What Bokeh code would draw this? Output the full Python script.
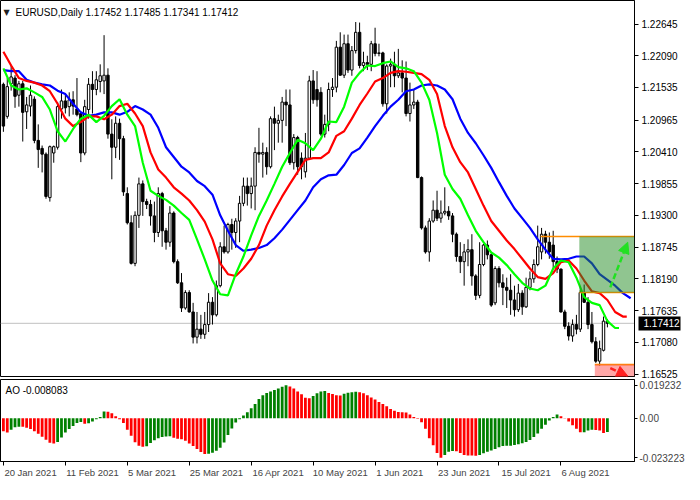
from bokeh.plotting import figure
from bokeh.layouts import column
from bokeh.models import (FixedTicker, PrintfTickFormatter, Label, Span, LinearAxis,
                          Arrow, NormalHead, Range1d, BoxAnnotation)
from bokeh.embed import file_html
from bokeh.resources import INLINE

# ---------------- data ----------------
symbol_text = "EURUSD,Daily  1.17452 1.17485 1.17341 1.17412"
ao_text = "AO -0.008083"
last_price = 1.17412

date_labels = ["20 Jan 2021", "11 Feb 2021", "5 Mar 2021", "25 Mar 2021", "16 Apr 2021",
               "10 May 2021", "1 Jun 2021", "23 Jun 2021", "15 Jul 2021", "6 Aug 2021"]
date_bars = [0, 16, 32, 48, 64, 80, 96, 112, 128, 144]

price_ticks = [1.22645, 1.22090, 1.21535, 1.20965, 1.20410, 1.19855, 1.19300,
               1.18745, 1.18190, 1.17635, 1.17080, 1.16525]
ao_ticks = [0.019232, 0.0, -0.023223]
ao_tick_labels = ["0.019232", "0.00", "-0.023223"]

open_ = [
    1.2159, 1.2103, 1.2160, 1.2170, 1.2140, 1.2160, 1.2111, 1.2121, 1.2133, 1.2061,
    1.2047, 1.2037, 1.1961, 1.2039, 1.2049, 1.2116, 1.2130, 1.2120, 1.2132, 1.2116,
    1.2108, 1.2039, 1.2115, 1.2159, 1.2150, 1.2164, 1.2165, 1.2175, 1.2072, 1.2049,
    1.2091, 1.2064, 1.1968, 1.1917, 1.1846, 1.1930, 1.1985, 1.1954, 1.1949, 1.1929,
    1.1900, 1.1968, 1.1903, 1.1883, 1.1934, 1.1849, 1.1812, 1.1768, 1.1795, 1.1761,
    1.1717, 1.1731, 1.1722, 1.1739, 1.1778, 1.1756, 1.1807, 1.1875, 1.1866, 1.1914,
    1.1900, 1.1920, 1.1951, 1.1981, 1.1968, 1.1981, 1.2040, 1.2037, 1.2040, 1.2015,
    1.2099, 1.2091, 1.2096, 1.2128, 1.2123, 1.2022, 1.2066, 1.2030, 1.2006, 1.2030,
    1.2165, 1.2150, 1.2145, 1.2072, 1.2089, 1.2150, 1.2154, 1.2224, 1.2175, 1.2230,
    1.2184, 1.2218, 1.2250, 1.2192, 1.2197, 1.2194, 1.2230, 1.2213, 1.2214, 1.2125,
    1.2191, 1.2194, 1.2174, 1.2179, 1.2170, 1.2108, 1.2123, 1.2128, 1.1996, 1.1908,
    1.1866, 1.1920, 1.1939, 1.1925, 1.1934, 1.1937, 1.1929, 1.1897, 1.1858, 1.1849,
    1.1866, 1.1870, 1.1824, 1.1790, 1.1844, 1.1878, 1.1861, 1.1777, 1.1837, 1.1812,
    1.1804, 1.1799, 1.1782, 1.1765, 1.1794, 1.1770, 1.1804, 1.1819, 1.1844, 1.1866,
    1.1897, 1.1883, 1.1878, 1.1849, 1.1836, 1.1761, 1.1736, 1.1719, 1.1739, 1.1731,
    1.1795, 1.1778, 1.1739, 1.1709, 1.1675, 1.1694, 1.17452]

high = [
    1.2162, 1.2170, 1.2191, 1.2175, 1.2165, 1.2165, 1.2137, 1.2157, 1.2138, 1.2089,
    1.2052, 1.2040, 1.2052, 1.2052, 1.2128, 1.2150, 1.2143, 1.2145, 1.2147, 1.2170,
    1.2111, 1.2132, 1.2170, 1.2182, 1.2182, 1.2194, 1.2245, 1.2187, 1.2098, 1.2103,
    1.2099, 1.2069, 1.1979, 1.1930, 1.1937, 1.1996, 1.1991, 1.1959, 1.1957, 1.1954,
    1.1979, 1.1971, 1.1908, 1.1946, 1.1937, 1.1853, 1.1829, 1.1799, 1.1799, 1.1777,
    1.1761, 1.1756, 1.1761, 1.1794, 1.1787, 1.1816, 1.1883, 1.1912, 1.1917, 1.1924,
    1.1925, 1.1964, 1.1996, 1.1996, 1.1996, 1.2049, 1.2083, 1.2057, 1.2049, 1.2103,
    1.2120, 1.2106, 1.2137, 1.2150, 1.2150, 1.2072, 1.2069, 1.2040, 1.2074, 1.2174,
    1.2184, 1.2182, 1.2154, 1.2106, 1.2162, 1.2170, 1.2235, 1.2250, 1.2246, 1.2246,
    1.2226, 1.2268, 1.2267, 1.2216, 1.2209, 1.2235, 1.2258, 1.2230, 1.2216, 1.2194,
    1.2204, 1.2216, 1.2221, 1.2201, 1.2199, 1.2162, 1.2150, 1.2132, 1.1998, 1.1912,
    1.1925, 1.1956, 1.1973, 1.1956, 1.1979, 1.1946, 1.1934, 1.1900, 1.1883, 1.1880,
    1.1888, 1.1897, 1.1827, 1.1883, 1.1880, 1.1886, 1.1863, 1.1841, 1.1841, 1.1827,
    1.1821, 1.1827, 1.1807, 1.1810, 1.1799, 1.1821, 1.1832, 1.1853, 1.1912, 1.1908,
    1.1903, 1.1900, 1.1903, 1.1858, 1.1837, 1.1765, 1.1743, 1.1748, 1.1756, 1.1799,
    1.1809, 1.1787, 1.1761, 1.1717, 1.1711, 1.1753, 1.17485]

low = [
    1.2076, 1.2099, 1.2148, 1.2118, 1.2120, 1.2059, 1.2081, 1.2103, 1.2056, 1.2013,
    1.2005, 1.1959, 1.1954, 1.2022, 1.2045, 1.2099, 1.2108, 1.2103, 1.2106, 1.2103,
    1.2023, 1.2035, 1.2099, 1.2108, 1.2140, 1.2145, 1.2142, 1.2064, 1.1993, 1.2030,
    1.2027, 1.1964, 1.1914, 1.1844, 1.1841, 1.1908, 1.1929, 1.1941, 1.1912, 1.1883,
    1.1892, 1.1875, 1.1870, 1.1875, 1.1846, 1.1810, 1.1761, 1.1765, 1.1760, 1.1706,
    1.1706, 1.1714, 1.1714, 1.1726, 1.1739, 1.1753, 1.1804, 1.1863, 1.1863, 1.1870,
    1.1873, 1.1883, 1.1946, 1.1947, 1.1942, 1.1939, 1.2022, 1.1996, 1.2001, 1.2012,
    1.2044, 1.2057, 1.2057, 1.2086, 1.2018, 1.2010, 1.2001, 1.1993, 1.1996, 1.2027,
    1.2125, 1.2120, 1.2069, 1.2066, 1.2077, 1.2137, 1.2145, 1.2174, 1.2170, 1.2179,
    1.2174, 1.2213, 1.2187, 1.2182, 1.2184, 1.2182, 1.2208, 1.2208, 1.2120, 1.2108,
    1.2154, 1.2154, 1.2170, 1.2145, 1.2103, 1.2094, 1.2116, 1.1995, 1.1905, 1.1863,
    1.1849, 1.1917, 1.1920, 1.1917, 1.1930, 1.1922, 1.1883, 1.1849, 1.1829, 1.1807,
    1.1841, 1.1807, 1.1782, 1.1785, 1.1841, 1.1853, 1.1770, 1.1773, 1.1804, 1.1773,
    1.1768, 1.1756, 1.1753, 1.1761, 1.1756, 1.1768, 1.1799, 1.1812, 1.1841, 1.1853,
    1.1863, 1.1854, 1.1836, 1.1829, 1.1760, 1.1731, 1.1711, 1.1709, 1.1722, 1.1726,
    1.1777, 1.1731, 1.1706, 1.1672, 1.1667, 1.1692, 1.17341]

close = [
    1.2086, 1.2155, 1.2172, 1.2138, 1.2160, 1.2110, 1.2123, 1.2140, 1.2061, 1.2045,
    1.2037, 1.1963, 1.2050, 1.2050, 1.2120, 1.2130, 1.2118, 1.2132, 1.2121, 1.2106,
    1.2039, 1.2120, 1.2159, 1.2150, 1.2167, 1.2174, 1.2175, 1.2072, 1.2049, 1.2091,
    1.2064, 1.1971, 1.1917, 1.1846, 1.1930, 1.1985, 1.1954, 1.1949, 1.1929, 1.1900,
    1.1968, 1.1903, 1.1883, 1.1934, 1.1849, 1.1812, 1.1768, 1.1795, 1.1761, 1.1717,
    1.1731, 1.1722, 1.1739, 1.1778, 1.1756, 1.1807, 1.1875, 1.1866, 1.1914, 1.1900,
    1.1920, 1.1951, 1.1981, 1.1968, 1.1981, 1.2040, 1.2037, 1.2040, 1.2015, 1.2099,
    1.2091, 1.2096, 1.2128, 1.2123, 1.2022, 1.2066, 1.2015, 1.2015, 1.2030, 1.2165,
    1.2132, 1.2132, 1.2072, 1.2089, 1.2150, 1.2154, 1.2224, 1.2175, 1.2230, 1.2184,
    1.2218, 1.2250, 1.2192, 1.2197, 1.2194, 1.2230, 1.2213, 1.2214, 1.2125, 1.2191,
    1.2194, 1.2174, 1.2179, 1.2170, 1.2108, 1.2123, 1.2128, 1.1996, 1.1908, 1.1866,
    1.1920, 1.1939, 1.1925, 1.1934, 1.1937, 1.1929, 1.1897, 1.1858, 1.1849, 1.1866,
    1.1870, 1.1824, 1.1790, 1.1844, 1.1878, 1.1861, 1.1773, 1.1837, 1.1812, 1.1804,
    1.1799, 1.1782, 1.1765, 1.1794, 1.1770, 1.1804, 1.1819, 1.1844, 1.1875, 1.1897,
    1.1883, 1.1866, 1.1849, 1.1836, 1.1761, 1.1736, 1.1719, 1.1739, 1.1731, 1.1795,
    1.1778, 1.1739, 1.1709, 1.1675, 1.1697, 1.1745, 1.17412]

# Alligator lines (every second bar, shifted forward)
lips_bars = list(range(0, 160, 2)) + [159]
lips = [
    1.2187, 1.2157, 1.2150, 1.2152, 1.2145, 1.2137, 1.2115, 1.2077, 1.2059, 1.2081,
    1.2099, 1.2106, 1.2093, 1.2104, 1.2121, 1.2133, 1.2106, 1.2086, 1.2022, 1.1973,
    1.1964, 1.1957, 1.1947, 1.1934, 1.1922, 1.1888, 1.1853, 1.1816, 1.1792, 1.1790,
    1.1827, 1.1858, 1.1895, 1.1929, 1.1956, 1.1985, 1.2015, 1.2039, 1.2062, 1.2056,
    1.2044, 1.2064, 1.2094, 1.2093, 1.2120, 1.2162, 1.2179, 1.2192, 1.2191, 1.2196,
    1.2199, 1.2189, 1.2187, 1.2182, 1.2162, 1.2132, 1.2074, 1.2001, 1.1976, 1.1959,
    1.1930, 1.1903, 1.1883, 1.1865, 1.1856, 1.1843, 1.1827, 1.1812, 1.1802, 1.1799,
    1.1807, 1.1837, 1.1851, 1.1848, 1.1821, 1.1787, 1.1777, 1.1773, 1.1745, 1.1733,
    1.1733]

teeth_bars = list(range(0, 162, 2)) + [161]
teeth = [
    1.2216, 1.2192, 1.2170, 1.2165, 1.2162, 1.2157, 1.2147, 1.2125, 1.2099, 1.2086,
    1.2093, 1.2103, 1.2103, 1.2098, 1.2106, 1.2121, 1.2125, 1.2108, 1.2086, 1.2040,
    1.2010, 1.1996, 1.1979, 1.1968, 1.1956, 1.1939, 1.1919, 1.1888, 1.1846, 1.1827,
    1.1824, 1.1837, 1.1854, 1.1878, 1.1912, 1.1939, 1.1963, 1.1985, 1.2006, 1.2027,
    1.2030, 1.2030, 1.2040, 1.2069, 1.2077, 1.2099, 1.2123, 1.2143, 1.2164, 1.2170,
    1.2179, 1.2182, 1.2181, 1.2179, 1.2177, 1.2167, 1.2142, 1.2086, 1.2049, 1.2023,
    1.2005, 1.1976, 1.1947, 1.1920, 1.1903, 1.1886, 1.1871, 1.1854, 1.1837, 1.1822,
    1.1819, 1.1829, 1.1848, 1.1851, 1.1837, 1.1816, 1.1797, 1.1794, 1.1782, 1.1761,
    1.1753, 1.1753]

jaw_bars = list(range(0, 164, 2))
jaw = [
    1.2184, 1.2182, 1.2182, 1.2167, 1.2162, 1.2159, 1.2157, 1.2148, 1.2142, 1.2125,
    1.2110, 1.2104, 1.2106, 1.2110, 1.2110, 1.2106, 1.2111, 1.2121, 1.2115, 1.2106,
    1.2083, 1.2049, 1.2032, 1.2015, 1.2005, 1.1990, 1.1981, 1.1966, 1.1930, 1.1903,
    1.1878, 1.1868, 1.1870, 1.1873, 1.1878, 1.1890, 1.1905, 1.1922, 1.1939, 1.1956,
    1.1979, 1.1993, 1.2000, 1.2001, 1.2018, 1.2039, 1.2047, 1.2066, 1.2086, 1.2104,
    1.2120, 1.2132, 1.2147, 1.2150, 1.2157, 1.2159, 1.2157, 1.2150, 1.2133, 1.2099,
    1.2074, 1.2056, 1.2035, 1.2013, 1.1988, 1.1964, 1.1942, 1.1925, 1.1908, 1.1888,
    1.1870, 1.1854, 1.1853, 1.1854, 1.1858, 1.1858, 1.1846, 1.1827, 1.1817, 1.1807,
    1.1794, 1.1785]

ao = [
    -0.0077, -0.0084, -0.0068, -0.0054, -0.0050, -0.0051, -0.0056, -0.0063, -0.0077, -0.0091,
    -0.0109, -0.0126, -0.0144, -0.0149, -0.0139, -0.0113, -0.0084, -0.0063, -0.0046, -0.0028,
    -0.0022, -0.0033, -0.0030, -0.0019, -0.0007, 0.0007, 0.0039, 0.0038, 0.0028, 0.0011,
    -0.0007, -0.0028, -0.0068, -0.0103, -0.0141, -0.0162, -0.0167, -0.0164, -0.0146, -0.0129,
    -0.0118, -0.0111, -0.0108, -0.0106, -0.0115, -0.0120, -0.0123, -0.0132, -0.0149, -0.0163,
    -0.0181, -0.0198, -0.0210, -0.0208, -0.0203, -0.0190, -0.0173, -0.0143, -0.0099, -0.0060,
    -0.0025, -0.0007, 0.0016, 0.0034, 0.0058, 0.0083, 0.0112, 0.0134, 0.0147, 0.0156,
    0.0165, 0.0174, 0.0183, 0.019232, 0.0185, 0.0174, 0.0156, 0.0139, 0.0119, 0.0116,
    0.0130, 0.0145, 0.0156, 0.0159, 0.0147, 0.0141, 0.0134, 0.0133, 0.0143, 0.0148,
    0.0152, 0.0154, 0.0152, 0.0145, 0.0134, 0.0121, 0.0109, 0.0094, 0.0083, 0.0069,
    0.0054, 0.0043, 0.0036, 0.0034, 0.0033, 0.0022, 0.0007, -0.0003, -0.0024, -0.0062,
    -0.0118, -0.0158, -0.0204, -0.023223, -0.0215, -0.0197, -0.0192, -0.0194, -0.0204, -0.0215,
    -0.0218, -0.0219, -0.0220, -0.0215, -0.0206, -0.0197, -0.0189, -0.0180, -0.0170, -0.0163,
    -0.0162, -0.0161, -0.0157, -0.0152, -0.0147, -0.0140, -0.0128, -0.0111, -0.0090, -0.0062,
    -0.0038, -0.0014, 0.0007, 0.0021, 0.0011, -0.0002, -0.0019, -0.0042, -0.0062, -0.0083,
    -0.0082, -0.0072, -0.0068, -0.0070, -0.0073, -0.0087, -0.008083]

# drawn objects on the chart (bar index / price)
buy_zone = dict(left=148.75, bottom=1.1795, top=1.1893)
sell_zone = dict(left=152.75, top=1.1669)
upper_level_start = 138.75
up_arrow = dict(x0=156.75, y0=1.1804, x1=161.25, y1=1.1883)
down_arrow = dict(x0=156.75, y0=1.1663, x1=161.25, y1=1.1649)

# ---------------- layout constants ----------------
FONT = "Liberation Sans"
FW = 634
MAIN_H = 376
AO_H = 82
X0, X1 = -0.75, 163.0
X_RANGE = Range1d(X0, X1)
PX_PER_BAR = FW / (X1 - X0)

bars = list(range(len(close)))
up = [i for i in bars if close[i] >= open_[i]]
dn = [i for i in bars if close[i] < open_[i]]

p = figure(frame_width=FW, frame_height=MAIN_H, x_range=X_RANGE,
           y_range=Range1d(1.16482, 1.23056), output_backend="svg", toolbar_location=None,
           y_axis_location="right", x_axis_location=None,
           min_border_left=0, min_border_right=44, min_border_top=0, min_border_bottom=3)
p.grid.visible = False
p.outline_line_color = "black"
p.outline_line_alpha = 1.0
p.background_fill_color = "white"
p.border_fill_color = "white"

p.add_layout(Span(location=last_price, dimension="width", line_color="#C0C0C0",
                  line_width=1, level="underlay"))

p.segment(x0=bars, y0=low, x1=bars, y1=high, line_color="black", line_width=1)
p.vbar(x=up, width=0.62, top=[close[i] for i in up], bottom=[open_[i] for i in up],
       fill_color="white", line_color="black", line_width=1)
p.vbar(x=dn, width=0.62, top=[open_[i] for i in dn], bottom=[close[i] for i in dn],
       fill_color="black", line_color="black", line_width=1)

p.line(jaw_bars, jaw, line_color="#0000FF", line_width=2.2)
p.line(teeth_bars, teeth, line_color="#FF0000", line_width=2.2)
p.line(lips_bars, lips, line_color="#00FF00", line_width=2.2)

p.add_layout(BoxAnnotation(left=buy_zone["left"], bottom=buy_zone["bottom"], top=buy_zone["top"],
                           fill_color="#228B22", fill_alpha=0.5, line_alpha=0))
p.add_layout(BoxAnnotation(left=sell_zone["left"], top=sell_zone["top"],
                           fill_color="#FF5050", fill_alpha=0.5, line_alpha=0))
p.segment(x0=[upper_level_start, buy_zone["left"], sell_zone["left"]],
          y0=[buy_zone["top"], buy_zone["bottom"], sell_zone["top"]],
          x1=[X1, X1, X1],
          y1=[buy_zone["top"], buy_zone["bottom"], sell_zone["top"]],
          line_color="#FF8C00", line_width=1.6)

p.add_layout(Arrow(x_start=up_arrow["x0"], y_start=up_arrow["y0"], x_end=up_arrow["x1"],
                   y_end=up_arrow["y1"], line_color="#22E022", line_width=2.5, line_dash="6 3",
                   end=NormalHead(size=11, fill_color="#22E022", line_color="#22E022")))
p.add_layout(Arrow(x_start=down_arrow["x0"], y_start=down_arrow["y0"], x_end=down_arrow["x1"],
                   y_end=down_arrow["y1"], line_color="#FF2020", line_width=2.5, line_dash="6 3",
                   end=NormalHead(size=11, fill_color="#FF2020", line_color="#FF2020")))

yax = p.yaxis[0]
yax.ticker = FixedTicker(ticks=price_ticks)
yax.formatter = PrintfTickFormatter(format="%.5f")
yax.major_tick_out = 4
yax.major_tick_in = 0
yax.minor_tick_out = 0
yax.minor_tick_in = 0
yax.major_label_standoff = 3
yax.axis_line_color = "black"
yax.major_label_text_font = FONT
yax.major_label_text_font_size = "10px"
yax.major_label_text_color = "black"

# current price tag: a second price scale whose single tick is drawn back over the first
# scale as a black bar, with its white label on top of it
tag = LinearAxis(ticker=FixedTicker(ticks=[last_price]),
                 formatter=PrintfTickFormatter(format="%.5f"),
                 axis_line_alpha=0, major_tick_out=0, major_tick_in=42,
                 major_tick_line_width=14, major_tick_line_color="black",
                 minor_tick_out=0, minor_tick_in=0, major_label_standoff=-37,
                 major_label_text_color="white", major_label_text_font=FONT,
                 major_label_text_font_size="10px")
p.add_layout(tag, "right")

p.add_layout(Label(x=3, y=MAIN_H - 12, x_units="screen", y_units="screen", text="\u25bc",
                   text_font="DejaVu Sans", text_font_size="8px", text_baseline="middle",
                   text_color="#202020"))
p.add_layout(Label(x=15, y=MAIN_H - 12, x_units="screen", y_units="screen", text=symbol_text,
                   text_font=FONT, text_font_size="10px", text_baseline="middle",
                   text_color="black"))

# ---------------- AO panel ----------------
ao_colors = ["#FF0000"] + ["#008000" if ao[i] > ao[i - 1] else "#FF0000" for i in range(1, len(ao))]
a = figure(frame_width=FW, frame_height=AO_H, x_range=X_RANGE,
           y_range=Range1d(-0.02536, 0.0226), output_backend="svg", toolbar_location=None,
           y_axis_location="right",
           min_border_left=0, min_border_right=44, min_border_top=0, min_border_bottom=18)
a.grid.visible = False
a.outline_line_color = "black"
a.outline_line_alpha = 1.0
a.background_fill_color = "white"
a.border_fill_color = "white"
a.vbar(x=bars, top=ao, bottom=0, width=0.72, fill_color=ao_colors, line_alpha=0)

ay = a.yaxis[0]
ay.ticker = FixedTicker(ticks=ao_ticks)
ay.major_label_overrides = {t: s for t, s in zip(ao_ticks, ao_tick_labels)}
ay.major_tick_out = 3
ay.major_tick_in = 0
ay.minor_tick_out = 0
ay.minor_tick_in = 0
ay.major_label_standoff = 2
ay.axis_line_color = "black"
ay.major_label_text_font = FONT
ay.major_label_text_font_size = "10px"

# tick marks at the dates (no text)
ax = a.xaxis[0]
ax.ticker = FixedTicker(ticks=date_bars)
ax.major_label_overrides = {b: "" for b in date_bars}
ax.major_label_text_font_size = "1px"
ax.major_tick_out = 4
ax.major_tick_in = 0
ax.minor_tick_out = 0
ax.minor_tick_in = 0
ax.major_label_standoff = 0
ax.axis_line_color = "black"

# date texts, each starting at its tick (MT4 style)
DATE_FONT_PX = 9.5
label_pos = [round(b + (len(s) * 0.5 * DATE_FONT_PX * 0.5 + 1) / PX_PER_BAR, 3)
             for b, s in zip(date_bars, date_labels)]
dax = LinearAxis(ticker=FixedTicker(ticks=label_pos),
                 major_label_overrides={pp: s for pp, s in zip(label_pos, date_labels)},
                 axis_line_alpha=0, major_tick_out=0, major_tick_in=0,
                 minor_tick_out=0, minor_tick_in=0, major_label_standoff=1,
                 major_label_text_font=FONT, major_label_text_font_size=f"{DATE_FONT_PX}px")
a.add_layout(dax, "below")

a.add_layout(Label(x=5, y=AO_H - 11, x_units="screen", y_units="screen", text=ao_text,
                   text_font=FONT, text_font_size="10px", text_baseline="middle",
                   text_color="black"))

layout = column(p, a, spacing=0)
open("out.html", "w").write(file_html(layout, INLINE))
